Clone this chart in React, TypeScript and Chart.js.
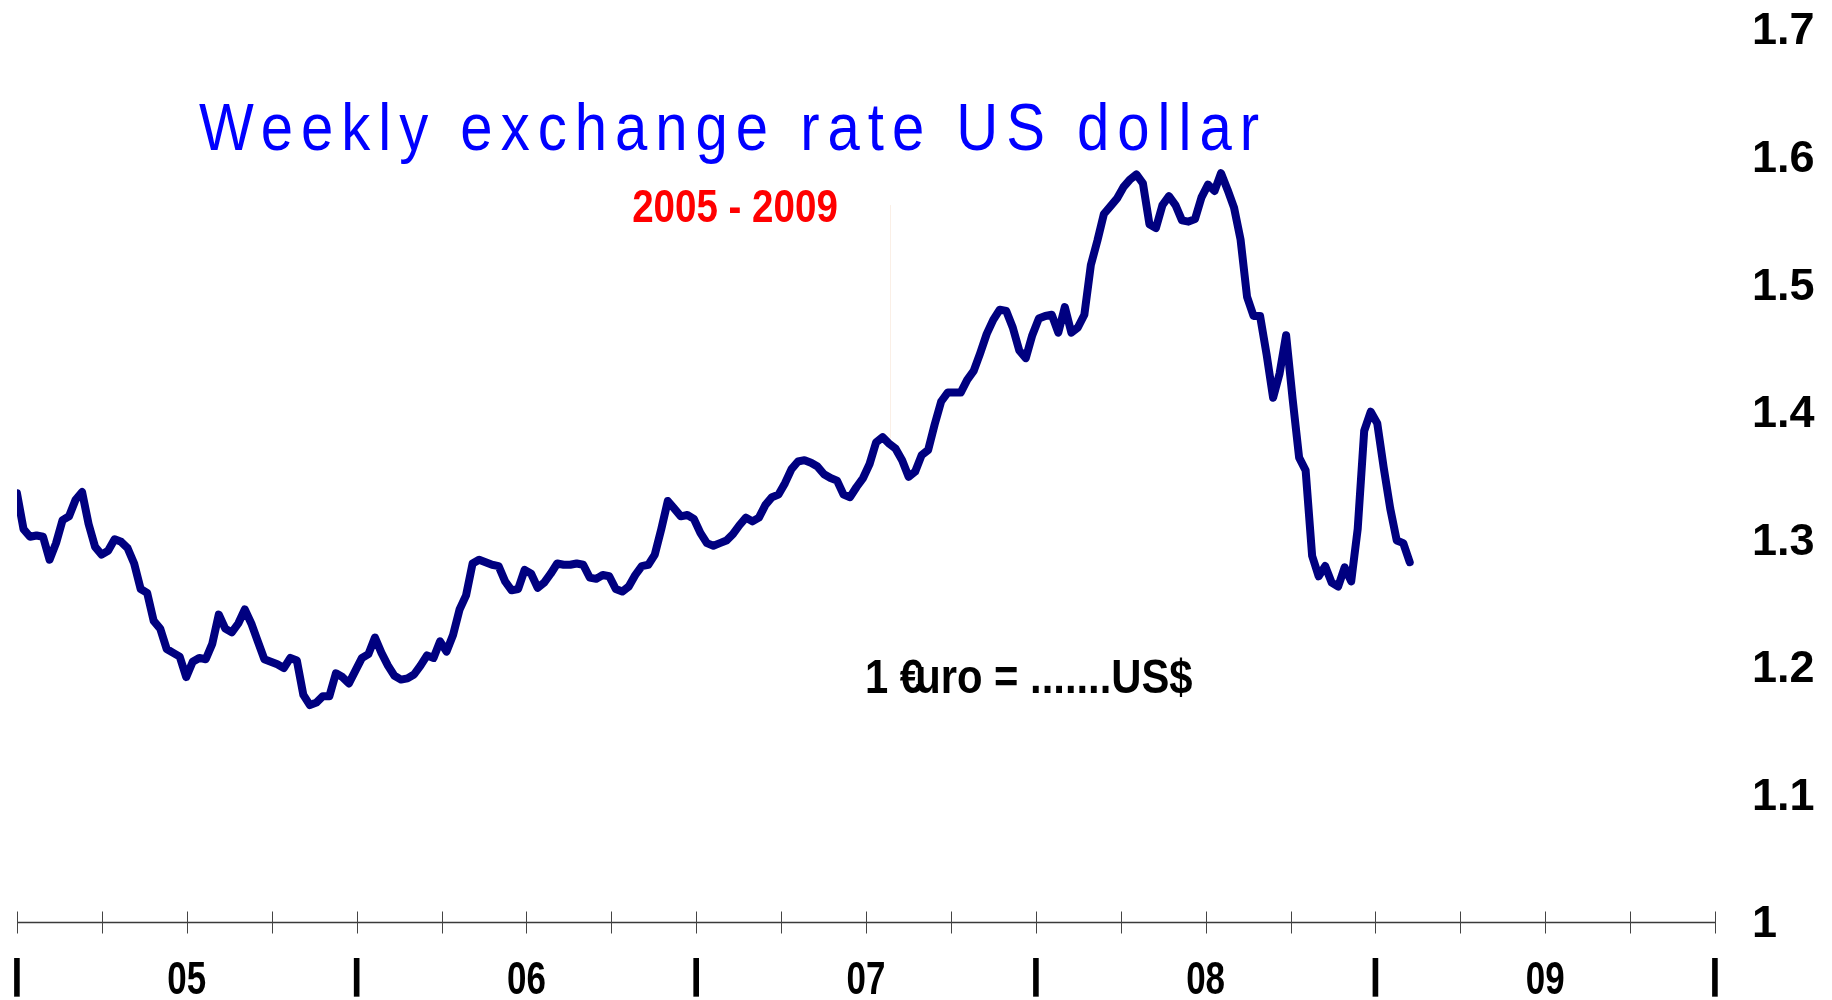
import React, { useEffect, useRef } from 'react';
import { Chart, registerables } from 'chart.js';

Chart.register(...registerables);

// ---- Text ----
const TITLE = 'Weekly exchange rate US dollar';
const SUBTITLE = '2005 - 2009';
const NOTE_PREFIX = '1 €';
const NOTE_REST = 'uro = .......US$';

// ---- Axis labels ----
const yearLabels = ['05', '06', '07', '08', '09'];
const yearSeparator = '|';
const yTicks = [1, 1.1, 1.2, 1.3, 1.4, 1.5, 1.6, 1.7];
const WEEKS_PER_YEAR = 52.18;

// ---- Weekly rates: 1 euro = ... US$ ----
const rates2005 = [
  1.336, 1.308, 1.302, 1.303, 1.302, 1.284, 1.297, 1.315, 1.318, 1.331,
  1.337, 1.312, 1.294, 1.288, 1.291, 1.300, 1.298, 1.293, 1.281, 1.261,
  1.258, 1.236, 1.230, 1.214, 1.211, 1.208, 1.192, 1.204, 1.207, 1.206,
  1.218, 1.241, 1.230, 1.227, 1.234, 1.245, 1.234, 1.220, 1.206, 1.204,
  1.202, 1.199, 1.207, 1.205, 1.178, 1.170, 1.172, 1.177, 1.177, 1.195,
  1.192, 1.187,
];
const rates2006 = [
  1.197, 1.207, 1.210, 1.223, 1.211, 1.201, 1.193, 1.190, 1.191, 1.194,
  1.201, 1.209, 1.207, 1.220, 1.212, 1.225, 1.245, 1.256, 1.281, 1.284,
  1.282, 1.280, 1.279, 1.267, 1.260, 1.261, 1.276, 1.273, 1.262, 1.266,
  1.273, 1.281, 1.280, 1.280, 1.281, 1.280, 1.270, 1.269, 1.272, 1.271,
  1.261, 1.259, 1.263, 1.272, 1.279, 1.280, 1.288, 1.308, 1.330, 1.324,
  1.318, 1.319,
];
const rates2007 = [
  1.316, 1.305, 1.297, 1.295, 1.297, 1.299, 1.304, 1.311, 1.317, 1.314,
  1.317, 1.327, 1.333, 1.335, 1.344, 1.355, 1.361, 1.362, 1.360, 1.357,
  1.351, 1.348, 1.346, 1.335, 1.333, 1.341, 1.348, 1.359, 1.376, 1.380,
  1.375, 1.371, 1.362, 1.349, 1.353, 1.366, 1.370, 1.390, 1.408, 1.415,
  1.415, 1.415, 1.425, 1.432, 1.446, 1.461, 1.472, 1.480, 1.479, 1.466,
  1.448, 1.442,
];
const rates2008 = [
  1.460, 1.473, 1.475, 1.476, 1.462, 1.482, 1.462, 1.466, 1.476, 1.515,
  1.534, 1.555, 1.561, 1.567, 1.576, 1.582, 1.586, 1.579, 1.547, 1.544,
  1.562, 1.569, 1.562, 1.550, 1.549, 1.551, 1.568, 1.578, 1.573, 1.587,
  1.574, 1.560, 1.535, 1.490, 1.475, 1.475, 1.445, 1.411, 1.430, 1.460,
  1.410, 1.364, 1.354, 1.287, 1.271, 1.279, 1.266, 1.263, 1.278, 1.267,
  1.308, 1.385,
];
const rates2009 = [1.400, 1.391, 1.356, 1.324, 1.299, 1.297, 1.282];

const ARIAL = "'Liberation Sans', Arial, sans-serif";

export default function App() {
  const ref = useRef<HTMLCanvasElement>(null);

  useEffect(() => {
    const canvas = ref.current;
    if (!canvas) return;
    const rates = [...rates2005, ...rates2006, ...rates2007, ...rates2008, ...rates2009];
    const weeks = rates.map((_, i) => i);
    const xMax = WEEKS_PER_YEAR * yearLabels.length;
    const quarter = WEEKS_PER_YEAR / 4;
    const quarterTicks = Array.from({ length: yearLabels.length * 4 + 1 }, (_, k) => k * quarter);

    const narrowText = (ctx: CanvasRenderingContext2D, text: string, x: number, y: number, sx: number, align: CanvasTextAlign) => {
      ctx.save();
      ctx.translate(x, y);
      ctx.scale(sx, 1);
      ctx.textAlign = align;
      ctx.fillText(text, 0, 0);
      ctx.restore();
    };

    const overlay = {
      id: 'overlay',
      beforeDatasetsDraw(chart: any) {
        const { ctx, scales } = chart;
        const xs = scales.x;
        const ys = scales.y;
        // faint vertical hairline visible in the original
        const px = Math.round(xs.getPixelForValue(134.2)) + 0.5;
        ctx.save();
        ctx.strokeStyle = 'rgba(245, 225, 210, 0.55)';
        ctx.lineWidth = 1;
        ctx.beginPath();
        ctx.moveTo(px, ys.getPixelForValue(1.562));
        ctx.lineTo(px, ys.getPixelForValue(1.379));
        ctx.stroke();
        ctx.restore();
      },
      afterDraw(chart: any) {
        const { ctx, scales, chartArea } = chart;
        const xs = scales.x;
        const yAxis = chartArea.bottom + 0.5;
        ctx.save();
        // axis line
        ctx.strokeStyle = '#3a3a3a';
        ctx.lineWidth = 1.5;
        ctx.beginPath();
        ctx.moveTo(xs.getPixelForValue(0), yAxis);
        ctx.lineTo(xs.getPixelForValue(xMax), yAxis);
        ctx.stroke();
        // cross tick marks every quarter
        ctx.lineWidth = 1;
        ctx.strokeStyle = '#444';
        quarterTicks.forEach((v) => {
          const px = Math.round(xs.getPixelForValue(v)) + 0.5;
          ctx.beginPath();
          ctx.moveTo(px, yAxis - 11);
          ctx.lineTo(px, yAxis + 11);
          ctx.stroke();
        });

        // year labels and separators under the axis
        ctx.fillStyle = '#000';
        ctx.textBaseline = 'alphabetic';
        ctx.font = `bold 46px ${ARIAL}`;
        yearLabels.forEach((lab, k) => {
          narrowText(ctx, lab, xs.getPixelForValue((k + 0.5) * WEEKS_PER_YEAR), 994, 0.76, 'center');
        });
        ctx.font = `bold 40px ${ARIAL}`;
        for (let k = 0; k <= yearLabels.length; k++) {
          narrowText(ctx, yearSeparator, xs.getPixelForValue(k * WEEKS_PER_YEAR), 988, 1.1, 'center');
        }

        // title (slightly narrow, letter-spaced)
        ctx.fillStyle = '#0000FF';
        ctx.font = `66px ${ARIAL}`;
        const sx = 0.88;
        const w0 = ctx.measureText(TITLE).width;
        const spacing = (1060 / sx - w0) / (TITLE.length - 1);
        ctx.save();
        ctx.translate(199, 150);
        ctx.scale(sx, 1);
        ctx.textAlign = 'left';
        (ctx as any).letterSpacing = `${spacing}px`;
        ctx.fillText(TITLE, 0, 0);
        (ctx as any).letterSpacing = '0px';
        ctx.restore();

        // subtitle
        ctx.fillStyle = '#FF0000';
        ctx.font = `bold 47px ${ARIAL}`;
        narrowText(ctx, SUBTITLE, 735, 222, 0.82, 'center');

        // note
        ctx.fillStyle = '#000000';
        ctx.font = `bold 48px ${ARIAL}`;
        ctx.save();
        ctx.translate(865, 693);
        ctx.scale(0.87, 1);
        ctx.textAlign = 'left';
        ctx.fillText(NOTE_PREFIX, 0, 0);
        const w1 = ctx.measureText(NOTE_PREFIX).width;
        ctx.fillText(NOTE_REST, w1 - 9, 0);
        ctx.restore();

        ctx.restore();
      },
    };

    const chart = new Chart(canvas, {
      type: 'line',
      data: {
        labels: weeks,
        datasets: [
          {
            data: rates,
            borderColor: '#000080',
            borderWidth: 8,
            pointRadius: 0,
            tension: 0,
            fill: false,
            borderJoinStyle: 'round',
            borderCapStyle: 'round',
          },
        ],
      },
      options: {
        responsive: false,
        animation: false,
        layout: { padding: { left: 17, top: 29, right: 0, bottom: 0 } },
        plugins: {
          legend: { display: false },
          tooltip: { enabled: false },
          title: { display: false },
        },
        scales: {
          x: {
            type: 'linear',
            min: 0,
            max: xMax,
            afterBuildTicks: (s: any) => {
              s.ticks = quarterTicks.map((v) => ({ value: v }));
            },
            afterFit: (s: any) => {
              s.height = 78;
              s.paddingLeft = 0;
              s.paddingRight = 0;
              s.paddingTop = 0;
              s.paddingBottom = 0;
            },
            grid: { display: false, drawTicks: false },
            border: { display: false },
            ticks: { display: false },
          },
          y: {
            position: 'right',
            min: 1,
            max: 1.7,
            afterBuildTicks: (s: any) => {
              s.ticks = yTicks.map((v) => ({ value: v }));
            },
            afterFit: (s: any) => {
              s.width = 117;
              s.paddingLeft = 0;
              s.paddingRight = 0;
              s.paddingTop = 0;
              s.paddingBottom = 0;
            },
            grid: { display: false, drawTicks: false },
            border: { display: false },
            ticks: {
              padding: 37,
              labelOffset: 3,
              color: '#000',
              font: { family: ARIAL, size: 45, weight: 'bold' },
              callback: (v: any) => String(v),
            },
          },
        },
      },
      plugins: [overlay],
    } as any);

    return () => chart.destroy();
  }, []);

  return (
    <div style={{ position: 'absolute', left: 0, top: 0, width: 1832, height: 1000, background: '#fff' }}>
      <canvas ref={ref} width={1832} height={1000} style={{ display: 'block' }} />
    </div>
  );
}
